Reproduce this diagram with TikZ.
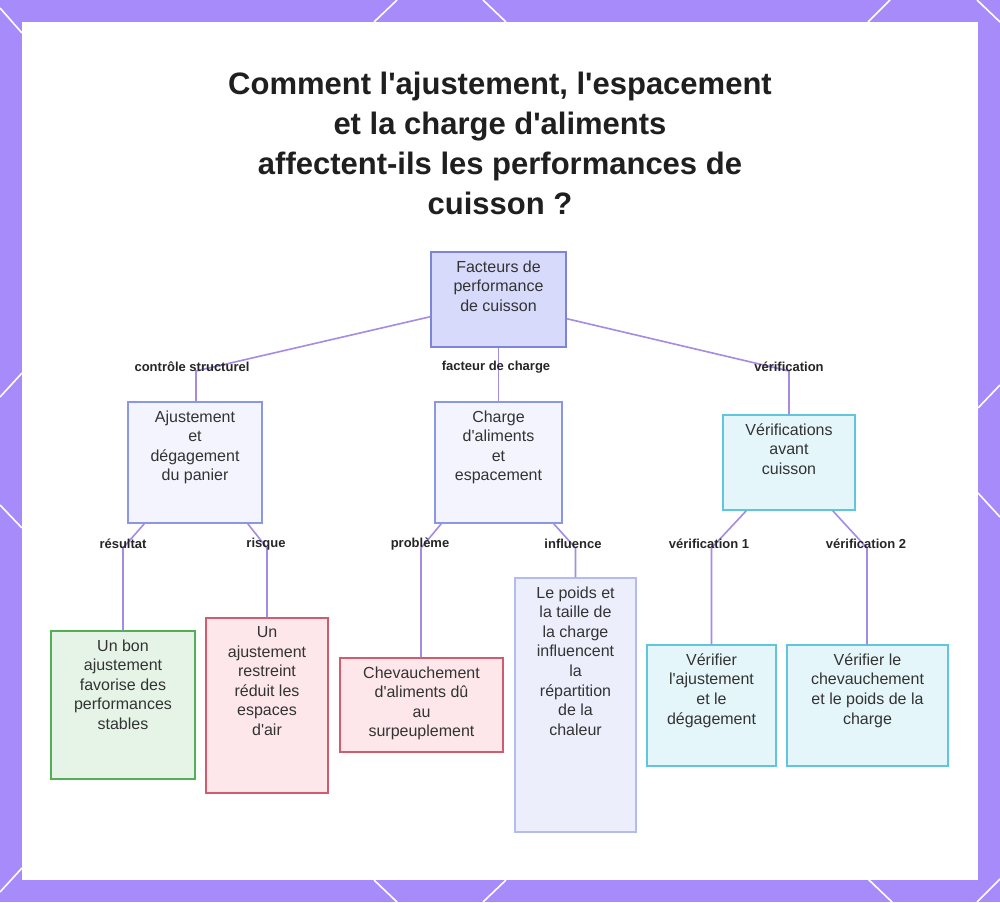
\documentclass[tikz,border=0pt]{standalone}
\usepackage{fontspec}
\setmainfont{Liberation Sans}[Ligatures=TeXOff]
\usetikzlibrary{calc}
\definecolor{framec}{HTML}{A78BFA}
\definecolor{edgec}{HTML}{A58AE6}
\definecolor{txtc}{HTML}{333333}
\definecolor{rootfill}{HTML}{D7DAFB}
\definecolor{rootdraw}{HTML}{7C85D9}
\definecolor{lavfill}{HTML}{F3F4FE}
\definecolor{lavdraw}{HTML}{8A98E3}
\definecolor{lav2fill}{HTML}{ECEEFC}
\definecolor{lav2draw}{HTML}{B3BCEE}
\definecolor{cyanfill}{HTML}{E5F6FB}
\definecolor{cyandraw}{HTML}{5FC6DC}
\definecolor{greenfill}{HTML}{E6F4E7}
\definecolor{greendraw}{HTML}{52AE57}
\definecolor{redfill}{HTML}{FDE7EB}
\definecolor{reddraw}{HTML}{D25B6E}
\tikzset{
  boxbase/.style={rectangle, line width=1.4pt, inner sep=0pt},
  rootbox/.style={boxbase, fill=rootfill, draw=rootdraw},
  lavbox/.style={boxbase, fill=lavfill, draw=lavdraw},
  lavtwobox/.style={boxbase, fill=lav2fill, draw=lav2draw},
  cyanbox/.style={boxbase, fill=cyanfill, draw=cyandraw},
  greenbox/.style={boxbase, fill=greenfill, draw=greendraw},
  redbox/.style={boxbase, fill=redfill, draw=reddraw},
  boxtext/.style={anchor=north, inner sep=0pt, align=center, text=txtc, font=\fontsize{16}{19.6}\selectfont},
  edgelabel/.style={inner sep=1pt, text=black!85, font=\fontsize{13}{15}\selectfont\bfseries},
  edge/.style={draw=edgec, line width=1.6pt},
  frameline/.style={draw=white, line width=1.6pt}
}
\begin{document}
\begin{tikzpicture}[x=1pt,y=-1pt]
\useasboundingbox (0,0) rectangle (1000,902);
\fill[framec] (0,0) rectangle (1000,902);
\fill[white] (22,22) rectangle (978,880);
% frame decorations
\draw[frameline] (0,8) -- (22,33);
\draw[frameline] (374,22) -- (397,0);
\draw[frameline] (483,0) -- (506,22);
\draw[frameline] (868,22) -- (890,0);
\draw[frameline] (977,0) -- (1000,22);
\draw[frameline] (0,397) -- (22,373);
\draw[frameline] (0,505) -- (22,528);
\draw[frameline] (978,408) -- (1000,385);
\draw[frameline] (978,493) -- (1000,517);
\draw[frameline] (0,892) -- (22,868);
\draw[frameline] (374,880) -- (397,902);
\draw[frameline] (483,902) -- (506,880);
\draw[frameline] (868,879) -- (892,902);
\draw[frameline] (977,902) -- (1000,879);

% title
\node[align=center, text=black!88, font=\fontsize{31}{40}\selectfont\bfseries] (title) at (500,143)
  {Comment l'ajustement, l'espacement\\et la charge d'aliments\\affectent-ils les performances de\\cuisson ?};

% boxes
\node[rootbox, minimum width=135pt, minimum height=95pt] (root) at (498.5,299.5) {};
\node[lavbox, minimum width=134pt, minimum height=121pt] (A) at (195,462.5) {};
\node[lavbox, minimum width=127pt, minimum height=121pt] (B) at (498.5,462.5) {};
\node[cyanbox, minimum width=132pt, minimum height=95pt] (C) at (789,462.5) {};
\node[greenbox, minimum width=144pt, minimum height=148pt] (L1) at (123,705) {};
\node[redbox, minimum width=122pt, minimum height=175pt] (L2) at (267,705.5) {};
\node[redbox, minimum width=163pt, minimum height=94pt] (L3) at (421.5,705) {};
\node[lavtwobox, minimum width=121pt, minimum height=254pt] (L4) at (575.5,705) {};
\node[cyanbox, minimum width=129pt, minimum height=121pt] (L5) at (711.5,705.5) {};
\node[cyanbox, minimum width=161pt, minimum height=121pt] (L6) at (867.5,705.5) {};

% box texts
\node[boxtext] (troot) at ($(root.north)+(0,9)$) {Facteurs de\\performance\\de cuisson};
\node[boxtext] (tA) at ($(A.north)+(0,9)$) {Ajustement\\et\\dégagement\\du panier};
\node[boxtext] (tB) at ($(B.north)+(0,9)$) {Charge\\d'aliments\\et\\espacement};
\node[boxtext] (tC) at ($(C.north)+(0,9)$) {Vérifications\\avant\\cuisson};
\node[boxtext] (tL1) at ($(L1.north)+(0,9)$) {Un bon\\ajustement\\favorise des\\performances\\stables};
\node[boxtext] (tL2) at ($(L2.north)+(0,9)$) {Un\\ajustement\\restreint\\réduit les\\espaces\\d'air};
\node[boxtext] (tL3) at ($(L3.north)+(0,9)$) {Chevauchement\\d'aliments dû\\au\\surpeuplement};
\node[boxtext] (tL4) at ($(L4.north)+(0,9)$) {Le poids et\\la taille de\\la charge\\influencent\\la\\répartition\\de la\\chaleur};
\node[boxtext] (tL5) at ($(L5.north)+(0,9)$) {Vérifier\\l'ajustement\\et le\\dégagement};
\node[boxtext] (tL6) at ($(L6.north)+(0,9)$) {Vérifier le\\chevauchement\\et le poids de la\\charge};

% label positions
\coordinate (pA) at (196,371);
\coordinate (pC) at (789,371);
\coordinate (p1) at (123,548);
\coordinate (p2) at (267,548);
\coordinate (p3) at (421,548);
\coordinate (p4) at (575.5,548);
\coordinate (p5) at (711.5,548);
\coordinate (p6) at (867,548);

% connectors
\draw[edge] ($(root.south west)+(0,-31)$) -- (pA) -- (A.north -| pA);
\draw[edge] (root.south) -- (B.north);
\draw[edge] ($(root.south east)+(0,-29)$) -- (pC) -- (C.north);
\draw[edge] ($(A.south west)+(17,0)$) -- (p1) -- (L1.north);
\draw[edge] ($(A.south east)+(-15,0)$) -- (p2) -- (L2.north);
\draw[edge] ($(B.south west)+(7,0)$) -- (p3) -- (L3.north -| p3);
\draw[edge] ($(B.south east)+(-9,0)$) -- (p4) -- (L4.north);
\draw[edge] ($(C.south west)+(24,0)$) -- (p5) -- (L5.north);
\draw[edge] ($(C.south east)+(-23,0)$) -- (p6) -- (L6.north -| p6);

% edge labels
\node[edgelabel] (lA) at (192,367) {contrôle structurel};
\node[edgelabel] (lB) at (496,367) {facteur de charge};
\node[edgelabel] (lC) at (789,367) {vérification};
\node[edgelabel] (l1) at (123,544) {résultat};
\node[edgelabel] (l2) at (266,544) {risque};
\node[edgelabel] (l3) at (420,544) {problème};
\node[edgelabel] (l4) at (573,544) {influence};
\node[edgelabel] (l5) at (709,544) {vérification 1};
\node[edgelabel] (l6) at (866,544) {vérification 2};
\end{tikzpicture}
\end{document}
